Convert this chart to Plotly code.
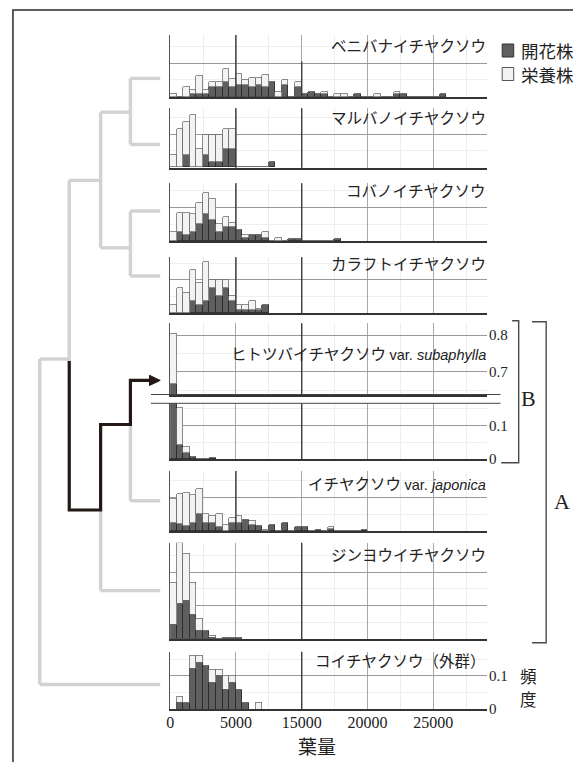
import plotly.graph_objects as go

W, H = 573, 762

# ---------------- data ----------------
bin_width = 500
x_tick_vals = [0, 5000, 10000, 15000, 20000]
x_tick_text = ["0", "5000", "15000", "20000", "25000"]
x_max = 24050

species = [
    "ベニバナイチヤクソウ",
    "マルバノイチヤクソウ",
    "コバノイチヤクソウ",
    "カラフトイチヤクソウ",
    "ヒトツバイチヤクソウ",
    "イチヤクソウ",
    "ジンヨウイチヤクソウ",
    "コイチヤクソウ（外群）",
]
legend_labels = ["開花株", "栄養株"]

# flowering (dark) / vegetative (light) frequency per 500-unit bin
beni_flower = [0, 0, 0, .007, .007, .007, .028, .028, .043, .028, .036, .036, .028, .036, .028, .043, 0, .036, 0, .028,
               .007, .014, .007, .007, 0, 0, 0, 0, .007, 0, 0, 0, 0, 0, .007, .007, 0, 0, 0, 0, 0, .007]
beni_veg = [.007, 0, .028, .013, .055, .013, .015, .015, .039, .024, .031, .014, .029, .021, .036, 0, .014, .014, 0, .015,
            0, 0, 0, .007, 0, .007, .007, 0, 0, 0, 0, .007, 0, 0, .007, 0, 0, 0, 0, 0, 0, 0]

maru_flower = [0, 0, .036, 0, 0, .036, .016, .016, .055, .055, 0, 0, 0, 0, 0, .016]
maru_veg = [.036, .116, .100, .155, .055, .062, .082, .082, .061, .061, 0, 0, 0, 0, 0, 0]

koba_flower = [0, .025, .017, .025, .050, .079, .062, .025, .041, .041, .033, .008, .017, .017, .008, 0, 0, 0, .004, .004,
               0, 0, 0, 0, 0, .004]
koba_veg = [.025, .059, .067, .054, .064, .062, .062, .025, .031, .013, 0, .009, 0, 0, .017, 0, .008, 0, 0, 0,
            0, 0, 0, 0, 0, 0]

kara_flower = [0, 0, 0, .037, .025, .037, .075, .050, .075, .037, .010, .010, .010, .010, .025]
kara_veg = [.025, .075, .060, .091, .065, .115, .025, .050, .025, .013, .015, .015, .027, .002, 0]

hito_flower = [.666, .042, .017, .004, 0, 0, .002]
hito_veg = [.137, .108, .018, 0, 0, 0, 0]

ichi_flower = [.025, .020, .015, .025, .052, .025, .025, .013, 0, .025, .025, .033, .018, .015, 0, .018, 0, .023, 0, .011,
               .011, 0, .003, 0, .005, 0, 0, 0, 0, .002]
ichi_veg = [.072, .090, .097, .082, .073, .027, .020, .039, .018, .013, .021, 0, .013, 0, .003, 0, 0, 0, 0, 0,
            0, 0, 0, 0, .006, 0, 0, 0, 0, 0]

jin_flower = [.042, .105, .115, .072, .025, .025, .004, 0, .004, .004, .004]
jin_veg = [.125, .182, .140, .095, .035, 0, .006, 0, 0, 0, 0]

koi_flower = [0, .020, .020, .120, .138, .130, .078, .100, .060, .078, .060, .020, 0, 0]
koi_veg = [0, .018, 0, .040, .022, 0, .040, .018, .040, .022, 0, 0, 0, .020]

# ---------------- layout helpers ----------------
def px(x):
    return x / W


def py(y):
    return 1 - y / H


X0, X1 = 167.3, 486.0
SCALE = 335.0  # px per 1.0 frequency

DARK = "#5f5f5f"
DARK_EDGE = "#2b2b2b"
LIGHT = "#f3f3f3"
LIGHT_EDGE = "#707070"
JP = "Noto Sans CJK JP"
SERIF = "Liberation Serif"

# (flower, veg, top_px, bottom_px, yrange or None)
panels = [
    (beni_flower, beni_veg, 35.0, 96.7, None),
    (maru_flower, maru_veg, 108.3, 167.7, None),
    (koba_flower, koba_veg, 183.3, 241.0, None),
    (kara_flower, kara_veg, 257.3, 313.3, None),
    (hito_flower, hito_veg, 323.3, 394.5, [0.638, 0.832]),
    (hito_flower, hito_veg, 403.3, 459.0, None),
    (ichi_flower, ichi_veg, 471.0, 531.0, None),
    (jin_flower, jin_veg, 542.7, 639.0, None),
    (koi_flower, koi_veg, 651.7, 709.3, None),
]

fig = go.Figure()
axes = {}
for k, (fl, vg, top, bot, yr) in enumerate(panels):
    i = k + 1
    xs = "x" if i == 1 else f"x{i}"
    ys = "y" if i == 1 else f"y{i}"
    xa = "xaxis" if i == 1 else f"xaxis{i}"
    ya = "yaxis" if i == 1 else f"yaxis{i}"
    centers = [bin_width * j + bin_width / 2 for j in range(len(fl))]
    fig.add_trace(go.Bar(x=centers, y=fl, width=bin_width, xaxis=xs, yaxis=ys,
                         marker=dict(color=DARK, line=dict(color=DARK_EDGE, width=0.8)),
                         showlegend=False, hoverinfo="skip"))
    fig.add_trace(go.Bar(x=centers, y=vg, width=bin_width, xaxis=xs, yaxis=ys,
                         marker=dict(color=LIGHT, line=dict(color=LIGHT_EDGE, width=0.8)),
                         showlegend=False, hoverinfo="skip"))
    if yr is None:
        yr = [0, (bot - top) / SCALE]
    last = (i == len(panels))
    axes[xa] = dict(domain=[px(X0), px(X1)], range=[0, x_max], anchor=ys,
                    tickmode="array", tickvals=x_tick_vals, ticktext=x_tick_text,
                    showticklabels=last, ticks="", ticklabelstandoff=-2,
                    tickfont=dict(family=SERIF, size=16, color="#222"),
                    showgrid=True, gridcolor="#a8a8a8", gridwidth=1,
                    minor=dict(dtick=2500, tick0=0, showgrid=True, gridcolor="#ededed", gridwidth=1),
                    showline=True, linecolor="#333", linewidth=1.5, zeroline=False)
    axes[ya] = dict(domain=[py(bot), py(top)], range=yr, anchor=xs,
                    tick0=0, dtick=0.1, showticklabels=False, ticks="",
                    showgrid=True, gridcolor="#9a9a9a", gridwidth=1,
                    minor=dict(dtick=0.05, tick0=0, showgrid=True, gridcolor="#efefef", gridwidth=1),
                    showline=True, linecolor="#555", linewidth=1, zeroline=False)

# ---------------- shapes ----------------
shapes = []

# darker vertical lines seen in the printed panels
dark_lines = {1: [(5000, 0, 1), (10000, 0, 0.57)], 2: [(5000, 0, 1), (10000, 0, 1)],
              3: [(5000, 0, 1), (10000, 0, 1)], 4: [(5000, 0, 1), (10000, 0, 1)],
              5: [(10000, 0, 1)], 6: [(10000, 0, 1)], 7: [(5000, 0, 1)],
              8: [(10000, 0, 1)], 9: [(10000, 0, 1)]}
for i, lst in dark_lines.items():
    xs = "x" if i == 1 else f"x{i}"
    ys = "y" if i == 1 else f"y{i}"
    for xv, a, b in lst:
        shapes.append(dict(type="line", xref=xs, yref=f"{ys} domain", x0=xv, x1=xv, y0=a, y1=b,
                           line=dict(color="#3c3c3c", width=1.4), layer="above"))

GRAY = "#d2d2d2"
gray_segments = [
    (127.3, 78.4, 157.3, 78.4), (127.3, 144.5, 157.3, 144.5), (127.3, 78.4, 127.3, 144.5),
    (127.3, 211.0, 157.3, 211.0), (127.3, 276.0, 157.3, 276.0), (127.3, 211.0, 127.3, 276.0),
    (97.3, 112.2, 127.3, 112.2), (97.3, 247.8, 127.3, 247.8), (97.3, 112.2, 97.3, 247.8),
    (65.7, 180.4, 97.3, 180.4), (65.7, 180.4, 65.7, 362.0),
    (36.0, 359.0, 65.7, 359.0), (36.0, 359.0, 36.0, 684.5), (36.0, 684.5, 157.3, 684.5),
    (127.3, 424.5, 127.3, 500.8), (127.3, 500.8, 157.3, 500.8),
    (97.3, 510.0, 97.3, 590.6), (97.3, 590.6, 157.3, 590.6),
]
for x0, y0, x1, y1 in gray_segments:
    shapes.append(dict(type="line", xref="paper", yref="paper", x0=px(x0), y0=py(y0), x1=px(x1), y1=py(y1),
                       line=dict(color=GRAY, width=3.4)))

black_pts = [(65.7, 361.0), (65.7, 510.0), (97.3, 510.0), (97.3, 424.5), (127.3, 424.5), (127.3, 380.4), (149.0, 380.4)]
path = "M " + " L ".join(f"{px(a):.5f},{py(b):.5f}" for a, b in black_pts)
shapes.append(dict(type="path", xref="paper", yref="paper", path=path,
                   line=dict(color="#231815", width=3.2)))
tri = [(146.5, 375.3), (157.3, 380.4), (146.5, 385.5)]
shapes.append(dict(type="path", xref="paper", yref="paper",
                   path="M " + " L ".join(f"{px(a):.5f},{py(b):.5f}" for a, b in tri) + " Z",
                   fillcolor="#231815", line=dict(color="#231815", width=1)))

# axis break lines
for yb in (394.5, 403.3):
    shapes.append(dict(type="line", xref="paper", yref="paper", x0=px(148), x1=px(500), y0=py(yb), y1=py(yb),
                       line=dict(color="#444", width=1)))

# brackets
BR = "#4a4a4a"
for pts in ([(511.7, 320.7), (518.3, 320.7), (518.3, 462.7), (500.7, 462.7)],
            [(531.7, 321.7), (546.0, 321.7), (546.0, 642.7), (531.7, 642.7)]):
    shapes.append(dict(type="path", xref="paper", yref="paper",
                       path="M " + " L ".join(f"{px(a):.5f},{py(b):.5f}" for a, b in pts),
                       line=dict(color=BR, width=1.4)))

# legend squares
shapes.append(dict(type="rect", xref="paper", yref="paper", x0=px(501.7), x1=px(513.3), y0=py(57), y1=py(44),
                   fillcolor=DARK, line=dict(color="#333", width=1)))
shapes.append(dict(type="rect", xref="paper", yref="paper", x0=px(501.7), x1=px(513.3), y0=py(80.5), y1=py(67.5),
                   fillcolor=LIGHT, line=dict(color="#555", width=1)))

# frame
shapes.append(dict(type="rect", xref="paper", yref="paper", x0=px(9), x1=px(620), y0=py(800), y1=py(10),
                   line=dict(color="#2a2a2a", width=1.5), fillcolor="rgba(0,0,0,0)"))

# ---------------- annotations ----------------
ann = []


def label(x, y, text, size, family=JP, xanchor="center", yref="paper", pad=1):
    ann.append(dict(x=px(x), y=(py(y) if yref == "paper" else y), xref="paper", yref=yref, text=text,
                    showarrow=False, xanchor=xanchor, yanchor="middle", borderpad=pad,
                    font=dict(family=family, size=size, color="#222")))


title_y = [45, 117, 190, 263, 353, 483, 554, 660]
title_text = [
    species[0], species[1], species[2], species[3],
    species[4] + " <span style=\"font-family:'Liberation Sans';font-size:14.5px\">var. <i>subaphylla</i></span>",
    species[5] + " <span style=\"font-family:'Liberation Sans';font-size:14.5px\">var. <i>japonica</i></span>",
    species[6], species[7],
]
for t, yy in zip(title_text, title_y):
    label(487, yy, t, 15.5, xanchor="right")

# right-side frequency labels
for ys, vals in (("y5", [0.8, 0.7]), ("y6", [0.1, 0]), ("y9", [0.1, 0])):
    for v in vals:
        label(487.5, v, ("0" if v == 0 else f"{v:g}"), 15, family=SERIF, xanchor="left", yref=ys, pad=0)

label(315, 745, "葉量", 19)
label(528, 675.5, "頻", 16.5, pad=0)
label(528, 699, "度", 16.5, pad=0)
label(528.3, 398.3, "B", 22, family=SERIF)
label(561.7, 501.7, "A", 22, family=SERIF)
label(519, 50.5, legend_labels[0], 17.5, xanchor="left")
label(519, 74, legend_labels[1], 17.5, xanchor="left")

fig.update_layout(width=W, height=H, autosize=False, margin=dict(l=0, r=0, t=0, b=0),
                  paper_bgcolor="white", plot_bgcolor="white", barmode="stack", bargap=0,
                  showlegend=False, shapes=shapes, annotations=ann, **axes)

fig.write_html("out.html", config={"displayModeBar": False},
               post_script="document.body.style.margin='0px';document.body.style.overflow='hidden';")
